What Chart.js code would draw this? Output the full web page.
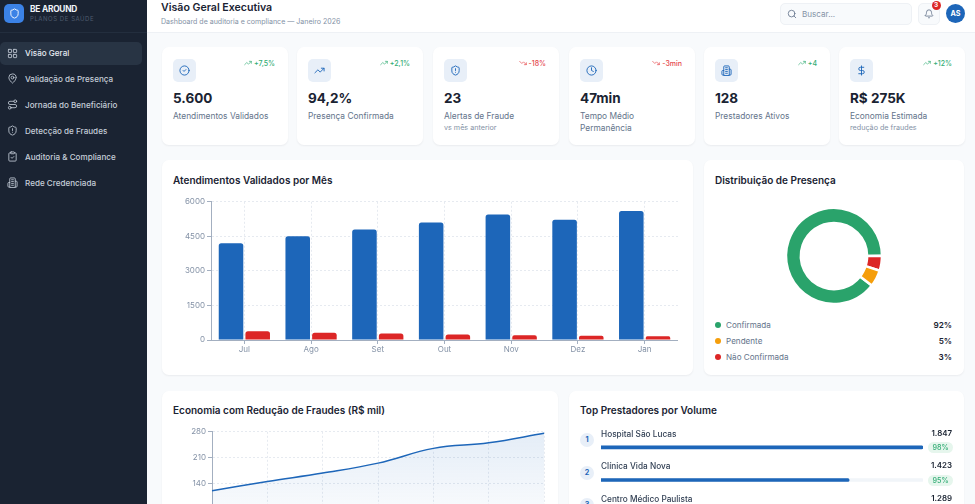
<!DOCTYPE html>
<html lang="pt-BR">
<head>
<meta charset="utf-8">
<title>Be Around - Visão Geral</title>
<script src="https://cdn.jsdelivr.net/npm/chart.js@4/dist/chart.umd.min.js"></script>
<style>
  html, body { margin: 0; width: 975px; height: 504px; overflow: hidden; background: #f8fafc; font-family: Inter, "Noto Sans", sans-serif; color: #0f172a; }
  div, span, canvas, svg { position: absolute; }
  .t { white-space: nowrap; line-height: 1; }
  .card { background: #fff; border-radius: 7px; box-shadow: 0 1px 2px rgba(15,23,42,.06); }
  svg { fill: none; stroke: currentColor; stroke-width: 2; stroke-linecap: round; stroke-linejoin: round; }
  #sidebar { left: 0; top: 0; width: 147px; height: 504px; background: #1a2332; }
  #topbar { left: 147px; top: 0; width: 828px; height: 32px; background: #fff; border-bottom: 1px solid #eef1f5; }
  .nav { color: #c6ced9; font-size: 8.100px; font-weight: 500; }
  .ctitle { font-size: 10px; font-weight: 600; color: #1a2332; }
</style>
</head>
<body>
<div id="sidebar">
  <div style="left:0;top:32px;width:147px;height:1px;background:#232e3e"></div>
  <div style="left:4px;top:4px;width:19.500px;height:19px;border-radius:5px;background:#3b82e6"></div>
  <svg style="left:8.500px;top:8px;color:#fff" width="11" height="11" viewBox="0 0 24 24"><path d="M20 13c0 5-3.500 7.500-7.660 8.950a1 1 0 0 1-.67-.010C7.500 20.500 4 18 4 13V6a1 1 0 0 1 1-1c2 0 4.500-1.200 6.240-2.720a1.170 1.170 0 0 1 1.520 0C14.510 3.810 17 5 19 5a1 1 0 0 1 1 1z"/></svg>
  <div class="t" style="left:30px;top:5px;font-size:8.300px;font-weight:700;color:#f1f5f9;letter-spacing:-.2px">BE AROUND</div>
  <div class="t" style="left:30px;top:16px;font-size:6px;color:#4f5c6e;letter-spacing:.55px">PLANOS DE SAÚDE</div>
  <div style="left:0;top:42px;width:142px;height:23px;border-radius:5px;background:#283444"></div>
</div>
<div id="topbar"></div>
<div class="t" style="left:161px;top:3px;font-size:10.600px;font-weight:600;color:#1a2332">Visão Geral Executiva</div>
<div class="t" style="left:161px;top:18px;font-size:7.050px;color:#8492a6">Dashboard de auditoria e compliance — Janeiro 2026</div>

<div style="left:780px;top:3px;width:130px;height:20px;background:#f8fafc;border:1px solid #eef1f5;border-radius:5px"></div>
<svg style="left:787px;top:8.500px;color:#64748b" width="10" height="10" viewBox="0 0 24 24"><circle cx="11" cy="11" r="8"/><path d="m21 21-4.300-4.300"/></svg>
<div class="t" style="left:802px;top:9.500px;font-size:8.100px;color:#8492a6">Buscar...</div>
<div style="left:918px;top:3px;width:20px;height:20px;background:#f8fafc;border:1px solid #eef1f5;border-radius:5px"></div>
<svg style="left:924px;top:8.500px;color:#64748b" width="10" height="10" viewBox="0 0 24 24"><path d="M10.300 21a2 2 0 0 0 3.400 0"/><path d="M3.300 15.300A1 1 0 0 0 4 17h16a1 1 0 0 0 .7-1.700C19.400 14 18 12.500 18 8a6 6 0 0 0-12 0c0 4.500-1.400 6-2.700 7.300"/></svg>
<div class="t" style="left:931.500px;top:.5px;width:9px;height:9px;border-radius:50%;background:#dc2626;color:#fff;font-size:6.500px;font-weight:700;text-align:center;line-height:9px">3</div>
<div class="t" style="left:946px;top:4px;width:19px;height:19px;border-radius:50%;background:#1d66b9;color:#fff;font-size:7.200px;font-weight:700;text-align:center;line-height:19px">AS</div>

<div class="card" style="left:162px;top:160px;width:531px;height:215px"></div>
<div class="card" style="left:704px;top:160px;width:260px;height:215px"></div>
<div class="card" style="left:162px;top:391px;width:396px;height:140px"></div>
<div class="card" style="left:569px;top:391px;width:395px;height:140px"></div>
<div class="t ctitle" style="left:173px;top:174.500px">Atendimentos Validados por Mês</div>
<div class="t ctitle" style="left:715px;top:174.500px">Distribuição de Presença</div>
<div class="t ctitle" style="left:173px;top:405px">Economia com Redução de Fraudes (R$ mil)</div>
<div class="t ctitle" style="left:580px;top:405px">Top Prestadores por Volume</div>

<canvas id="barChart" width="506" height="160" style="left:172px;top:195px"></canvas>
<canvas id="donutChart" width="108" height="108" style="left:780px;top:202px"></canvas>
<canvas id="lineChart" width="379" height="125" style="left:173px;top:425px"></canvas>
<canvas id="provChart" width="322" height="98" style="left:601px;top:431px"></canvas>

<script>
const meses = ["Jul", "Ago", "Set", "Out", "Nov", "Dez", "Jan"];
const validados = [4200, 4500, 4800, 5100, 5450, 5220, 5600];
const naoValidados = [380, 320, 280, 240, 210, 180, 160];
const ticksBarras = [0, 1500, 3000, 4500, 6000];

const economia = [120, 145, 168, 195, 235, 250, 276];
const ticksLinha = [0, 70, 140, 210, 280];

// fatias como aparecem no desenho, em sentido horario
const fatiasNomes = ["Confirmada", "Não Confirmada", "Pendente"];
const fatiasValores = [89.4, 5, 5.6];
const fatiasCores = ["#2aa36b", "#dc2626", "#f59e0b"];

const legendaNomes = ["Confirmada", "Pendente", "Não Confirmada"];
const legendaPct = ["92%", "5%", "3%"];
const legendaCores = ["#2aa36b", "#f59e0b", "#dc2626"];

const prestadores = ["Hospital São Lucas", "Clínica Vida Nova", "Centro Médico Paulista"];
const prestadoresVol = [1847, 1423, 1289];
const prestadoresTxt = ["1.847", "1.423", "1.289"];
const prestadoresPct = ["98%", "95%"];

const kpiValores = ["5.600", "94,2%", "23", "47min", "128", "R$ 275K"];
const kpiNomes = ["Atendimentos Validados", "Presença Confirmada", "Alertas de Fraude", "Tempo Médio<br>Permanência", "Prestadores Ativos", "Economia Estimada"];
const kpiSub = ["", "", "vs mês anterior", "", "", "redução de fraudes"];
const kpiTrend = ["+7,5%", "+2,1%", "-18%", "-3min", "+4", "+12%"];
const kpiCor = ["#34ad76", "#34ad76", "#e5484d", "#e5484d", "#34ad76", "#34ad76"];
const kpiX = [162, 297, 433, 569, 704, 839];

const navNomes = ["Visão Geral", "Validação de Presença", "Jornada do Beneficiário", "Detecção de Fraudes", "Auditoria & Compliance", "Rede Credenciada"];

const shield = '<path d="M20 13c0 5-3.500 7.500-7.660 8.950a1 1 0 0 1-.67-.010C7.500 20.500 4 18 4 13V6a1 1 0 0 1 1-1c2 0 4.500-1.200 6.240-2.720a1.170 1.170 0 0 1 1.520 0C14.510 3.810 17 5 19 5a1 1 0 0 1 1 1z"/>';
const building = '<path d="M6 22V4a2 2 0 0 1 2-2h8a2 2 0 0 1 2 2v18z"/><path d="M6 12H4a2 2 0 0 0-2 2v6a2 2 0 0 0 2 2h2"/><path d="M18 9h2a2 2 0 0 1 2 2v9a2 2 0 0 1-2 2h-2"/><path d="M10 6h4M10 10h4M10 14h4M10 18h4"/>';
const navIcones = [
  '<rect x="3" y="3" width="7" height="7" rx="1"/><rect x="14" y="3" width="7" height="7" rx="1"/><rect x="14" y="14" width="7" height="7" rx="1"/><rect x="3" y="14" width="7" height="7" rx="1"/>',
  '<path d="M20 10c0 5-5.500 10-8 12-2.500-2-8-7-8-12a8 8 0 0 1 16 0"/><circle cx="12" cy="10" r="3"/>',
  '<circle cx="6" cy="19" r="3"/><path d="M9 19h8.500a3.500 3.500 0 0 0 0-7h-11a3.500 3.500 0 0 1 0-7H15"/><circle cx="18" cy="5" r="3"/>',
  shield + '<path d="M12 8v4M12 16h.01"/>',
  '<rect x="8" y="2" width="8" height="4" rx="1"/><path d="M16 4h2a2 2 0 0 1 2 2v14a2 2 0 0 1-2 2H6a2 2 0 0 1-2-2V6a2 2 0 0 1 2-2h2"/><path d="m9 14 2 2 4-4"/>',
  building
];
const kpiIcones = [
  '<circle cx="12" cy="12" r="10"/><path d="m9 12 2 2 4-4"/>',
  '<path d="M22 7 13.500 15.500l-5-5L2 17"/><path d="M16 7h6v6"/>',
  shield + '<path d="M12 8v4M12 16h.01"/>',
  '<circle cx="12" cy="12" r="10"/><path d="M12 6v6l4 2"/>',
  building,
  '<path d="M12 2v20"/><path d="M17 5H9.500a3.500 3.500 0 0 0 0 7h5a3.500 3.500 0 0 1 0 7H6"/>'
];
const setaSobe = '<path d="M22 7 13.500 15.500l-5-5L2 17"/><path d="M16 7h6v6"/>';
const setaDesce = '<path d="M22 17 13.500 8.500l-5 5L2 7"/><path d="M16 17h6v-6"/>';

const addHtml = (html) => document.body.insertAdjacentHTML("beforeend", html);

navNomes.forEach((nome, i) => {
  const y = 53 + i * 25.9;
  addHtml(`<svg style="left:7px;top:${y - 5.5}px;color:#c6ced9;stroke-width:1.800" width="11" height="11" viewBox="0 0 24 24">${navIcones[i]}</svg>`);
  addHtml(`<div class="t nav" style="left:25px;top:${y - 4}px;${i == 0 ? "color:#e6ebf2" : ""}">${nome}</div>`);
});

kpiValores.forEach((valor, i) => {
  const x = kpiX[i];
  const cor = kpiCor[i];
  const dir = 975 - x - 113;
  addHtml(`<div class="card" style="left:${x}px;top:47px;width:125.500px;height:98px"></div>`);
  addHtml(`<div style="left:${x + 11}px;top:59px;width:23px;height:23px;border-radius:5px;background:#e8eff8"></div>`);
  addHtml(`<svg style="left:${x + 17}px;top:65px;color:#1d66b9" width="11" height="11" viewBox="0 0 24 24">${kpiIcones[i]}</svg>`);
  addHtml(`<div class="t" id="trend${i}" style="right:${dir}px;top:59.500px;font-size:7px;font-weight:500;color:${cor}">${kpiTrend[i]}</div>`);
  const largura = document.getElementById("trend" + i).getBoundingClientRect().width;
  addHtml(`<svg style="right:${dir + largura + 2}px;top:59px;color:${cor}" width="8" height="8" viewBox="0 0 24 24">${cor == "#e5484d" ? setaDesce : setaSobe}</svg>`);
  addHtml(`<div class="t" style="left:${x + 11}px;top:91.500px;font-size:13.500px;font-weight:700;color:#1a2332">${valor}</div>`);
  addHtml(`<div class="t" style="left:${x + 11}px;top:111px;font-size:8.400px;color:#64748b;line-height:11.700px">${kpiNomes[i]}</div>`);
  if (kpiSub[i]) addHtml(`<div class="t" style="left:${x + 11}px;top:124px;font-size:7.200px;color:#8492a6">${kpiSub[i]}</div>`);
});

legendaNomes.forEach((nome, i) => {
  const y = 324.500 + i * 16.300;
  addHtml(`<div style="left:715px;top:${y - 3}px;width:6px;height:6px;border-radius:50%;background:${legendaCores[i]}"></div>`);
  addHtml(`<div class="t" style="left:726px;top:${y - 4}px;font-size:8.100px;color:#64748b">${nome}</div>`);
  addHtml(`<div class="t" style="right:23px;top:${y - 4}px;font-size:8.200px;font-weight:600;color:#1a2332">${legendaPct[i]}</div>`);
});

prestadores.forEach((nome, i) => {
  const y = 433 + i * 32.7;
  addHtml(`<div class="t" style="left:580px;top:${y}px;width:14px;height:14px;border-radius:50%;background:#e8eff8;color:#1d66b9;font-size:7.200px;font-weight:700;text-align:center;line-height:14px">${i + 1}</div>`);
  addHtml(`<div class="t" style="left:601px;top:${y - 3.5}px;font-size:8.250px;font-weight:500;color:#334155">${nome}</div>`);
  addHtml(`<div class="t" style="right:23px;top:${y - 3.5}px;font-size:7.900px;font-weight:600;color:#1a2332">${prestadoresTxt[i]}</div>`);
  if (prestadoresPct[i]) addHtml(`<div class="t" style="left:928px;top:${y + 9}px;width:25px;height:11px;border-radius:6px;background:#e6f6ed;color:#34ad76;font-size:7.200px;font-weight:500;text-align:center;line-height:11px">${prestadoresPct[i]}</div>`);
});

const eixoCor = "#a3afc0";
const gradeCor = "#e6eaf0";
const fonteTick = { family: "Inter", size: 8 };
const gradeOpts = { color: gradeCor, tickColor: eixoCor, tickLength: 4 };
const tickOpts = { color: "#8492a6", font: fonteTick, padding: 2, callback: (v) => v };

new Chart(document.getElementById("barChart"), {
  type: "bar",
  data: {
    labels: meses,
    datasets: [
      { label: "Validados", data: validados, backgroundColor: "#1d66b9", borderRadius: 2.500, categoryPercentage: 0.8, barPercentage: 0.92 },
      { label: "Não validados", data: naoValidados, backgroundColor: "#dc2626", borderRadius: 2.500, categoryPercentage: 0.8, barPercentage: 0.92 },
    ],
  },
  options: {
    responsive: false,
    animation: false,
    layout: { padding: { top: 5 } },
    plugins: { legend: { display: false }, tooltip: { enabled: false } },
    scales: {
      x: {
        afterFit: (s) => { s.height = 15; },
        grid: { ...gradeOpts, offset: false },
        border: { color: eixoCor, dash: [2, 2] },
        ticks: { color: "#8492a6", font: fonteTick, padding: 1 },
      },
      y: {
        min: 0,
        max: 6000,
        afterFit: (s) => { s.width = 39; },
        afterBuildTicks: (s) => { s.ticks = ticksBarras.map((v) => ({ value: v })); },
        grid: gradeOpts,
        border: { color: eixoCor, dash: [2, 2] },
        ticks: tickOpts,
      },
    },
  },
});

new Chart(document.getElementById("donutChart"), {
  type: "doughnut",
  data: {
    labels: fatiasNomes,
    datasets: [{ data: fatiasValores, backgroundColor: fatiasCores, borderColor: "#ffffff", borderWidth: 2.500 }],
  },
  options: {
    responsive: false,
    animation: false,
    rotation: 128,
    radius: 48,
    cutout: "69%",
    plugins: { legend: { display: false }, tooltip: { enabled: false } },
  },
});

new Chart(document.getElementById("lineChart"), {
  type: "line",
  data: {
    labels: meses,
    datasets: [
      {
        label: "Economia",
        data: economia,
        borderColor: "#1d66b9",
        borderWidth: 1.500,
        tension: 0.4,
        pointRadius: 0,
        fill: true,
        backgroundColor: (c) => {
          const area = c.chart.chartArea;
          if (!area) return "transparent";
          const g = c.chart.ctx.createLinearGradient(0, area.top, 0, area.bottom);
          g.addColorStop(0, "rgba(29,102,185,0.12)");
          g.addColorStop(1, "rgba(29,102,185,0)");
          return g;
        },
      },
    ],
  },
  options: {
    responsive: false,
    animation: false,
    layout: { padding: { top: 5 } },
    plugins: { legend: { display: false }, tooltip: { enabled: false } },
    scales: {
      x: {
        afterFit: (s) => { s.height = 15; },
        grid: gradeOpts,
        border: { color: eixoCor, dash: [2, 2] },
        ticks: { color: "#8492a6", font: fonteTick, padding: 1 },
      },
      y: {
        min: 0,
        max: 280,
        afterFit: (s) => { s.width = 39; },
        afterBuildTicks: (s) => { s.ticks = ticksLinha.map((v) => ({ value: v })); },
        grid: gradeOpts,
        border: { color: eixoCor, dash: [2, 2] },
        ticks: tickOpts,
      },
    },
  },
});

new Chart(document.getElementById("provChart"), {
  type: "bar",
  data: {
    labels: prestadores,
    datasets: [
      { label: "Volume", data: prestadoresVol, backgroundColor: "#1d66b9", borderRadius: 2, barThickness: 3, grouped: false, order: 1 },
      { label: "Trilha", data: prestadoresVol.map(() => Math.max(...prestadoresVol)), backgroundColor: "#f1f5f9", borderRadius: 2, barThickness: 3, grouped: false, order: 2 },
    ],
  },
  options: {
    indexAxis: "y",
    responsive: false,
    animation: false,
    plugins: { legend: { display: false }, tooltip: { enabled: false } },
    scales: {
      x: { display: false, min: 0, max: Math.max(...prestadoresVol) },
      y: { display: false },
    },
  },
});
</script>
</body>
</html>
